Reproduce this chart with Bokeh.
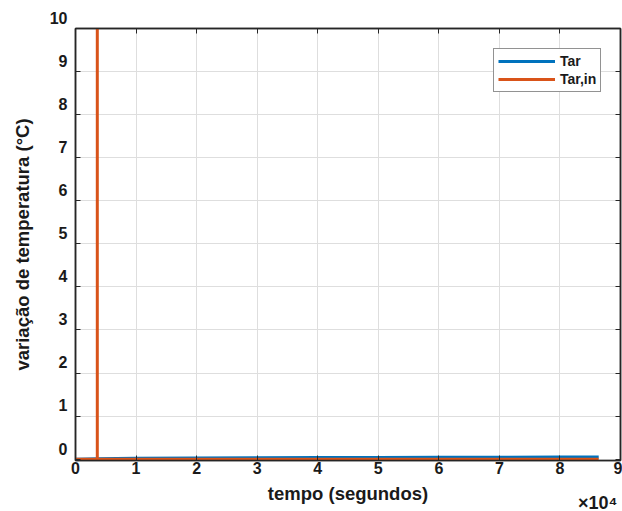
from bokeh.plotting import figure
from bokeh.models import (Range1d, FixedTicker, LinearAxis, Legend, LegendItem, Title)
from bokeh.embed import file_html
from bokeh.resources import INLINE

# ---- data ----
tar_t = [0, 3600, 10000, 20000, 30000, 40000, 50000, 60000, 70000, 80000, 86400]
tar_v = [0.0, 0.01, 0.02, 0.03, 0.035, 0.04, 0.04, 0.045, 0.045, 0.05, 0.05]
tarin_t = [0, 3600, 3600, 3600, 86400]
tarin_v = [0, 0, 100, 0, 0]
x_ticks = [0, 10000, 20000, 30000, 40000, 50000, 60000, 70000, 80000, 90000]
x_tick_labels = ["0", "1", "2", "3", "4", "5", "6", "7", "8", "9"]
y_ticks = [0, 1, 2, 3, 4, 5, 6, 7, 8, 9, 10]
series_names = ["Tar", "Tar,in"]
x_multiplier = "×10⁴"

FONT = "Liberation Sans"
DARK = "#262626"
TXT = "#1a1a1a"

p = figure(width=622, height=511, output_backend="svg", toolbar_location=None,
           x_range=Range1d(0, 90000), y_range=Range1d(-0.03, 10),
           min_border_left=75, min_border_right=2, min_border_top=28, min_border_bottom=51,
           x_axis_location=None, y_axis_location=None)
p.background_fill_color = "white"
p.border_fill_color = "white"
p.outline_line_color = DARK
p.outline_line_width = 1.5

xax = LinearAxis(ticker=FixedTicker(ticks=x_ticks),
                 major_label_overrides={t: l for t, l in zip(x_ticks, x_tick_labels)},
                 axis_label="tempo (segundos)")
yax = LinearAxis(ticker=FixedTicker(ticks=y_ticks),
                 major_label_overrides={t: f"{t}\n" for t in y_ticks},
                 axis_label="variação de temperatura (°C)")
for ax in (xax, yax):
    ax.axis_line_color = DARK
    ax.axis_line_width = 1.5
    ax.major_tick_line_color = DARK
    ax.major_tick_in = 5
    ax.major_tick_out = 0
    ax.minor_tick_line_color = None
    ax.major_label_text_font = FONT
    ax.major_label_text_font_style = "bold"
    ax.major_label_text_font_size = "16px"
    ax.major_label_text_color = TXT
    ax.axis_label_text_font = FONT
    ax.axis_label_text_font_style = "bold"
    ax.axis_label_text_font_size = "18.5px"
    ax.axis_label_text_color = TXT
xax.major_label_standoff = 1
xax.axis_label_standoff = 6
yax.major_label_standoff = 8
yax.axis_label_standoff = 14
p.add_layout(xax, "below")
p.add_layout(yax, "left")

# "×10^4" multiplier under the right end of the x axis
mult = Title(text=x_multiplier + "\n", align="right", vertical_align="bottom", offset=3, standoff=-32,
             text_font=FONT, text_font_size="18px", text_font_style="bold", text_color=TXT,
             text_line_height=0.75)
p.add_layout(mult, "below")

# top/right ticks (box)
tax = LinearAxis(ticker=FixedTicker(ticks=x_ticks), major_label_overrides={t: "" for t in x_ticks})
rax = LinearAxis(ticker=FixedTicker(ticks=y_ticks), major_label_overrides={t: "" for t in y_ticks})
for ax in (tax, rax):
    ax.axis_line_color = DARK
    ax.axis_line_width = 1.5
    ax.major_tick_line_color = DARK
    ax.major_tick_in = 5
    ax.major_tick_out = 0
    ax.minor_tick_line_color = None
    ax.major_label_text_font_size = "0px"
    ax.major_label_standoff = 0
p.add_layout(tax, "above")
p.add_layout(rax, "right")

p.xgrid.ticker = FixedTicker(ticks=x_ticks)
p.ygrid.ticker = FixedTicker(ticks=y_ticks)
for g in (p.xgrid, p.ygrid):
    g.grid_line_color = "#dedede"
    g.grid_line_width = 1

r1 = p.line(tar_t, tar_v, line_color="#0072BD", line_width=3)
r2 = p.line(tarin_t, tarin_v, line_color="#D95319", line_width=3)

legend = Legend(items=[LegendItem(label=series_names[0] + "\n", renderers=[r1]),
                       LegendItem(label=series_names[1] + "\n", renderers=[r2])],
                location=(418, 368))
legend.border_line_color = DARK
legend.border_line_width = 1.5
legend.background_fill_color = "white"
legend.label_text_font = FONT
legend.label_text_font_style = "bold"
legend.label_text_font_size = "14px"
legend.label_text_color = TXT
legend.label_text_line_height = 0.85
legend.glyph_width = 57
legend.glyph_height = 8
legend.label_height = 8
legend.label_standoff = 5
legend.spacing = 2
legend.padding = 4
legend.margin = 0
p.add_layout(legend, "center")

open("out.html", "w").write(file_html(p, INLINE))
